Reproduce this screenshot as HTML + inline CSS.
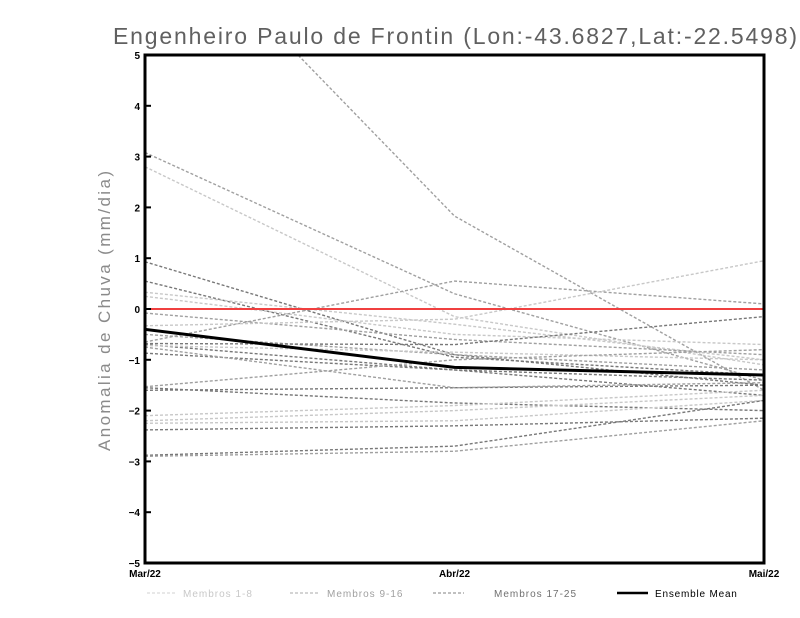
<!DOCTYPE html>
<html><head><meta charset="utf-8"><style>
body{margin:0;background:#fff;}
svg{display:block;font-family:"Liberation Sans",sans-serif;}
</style></head><body>
<svg id="chart" width="800" height="618">
<text x="113" y="44" font-size="23" fill="#606060" textLength="684" lengthAdjust="spacing">Engenheiro Paulo de Frontin (Lon:-43.6827,Lat:-22.5498)</text>
<text transform="translate(110,451) rotate(-90)" font-size="17" fill="#8a8a8a" textLength="280" lengthAdjust="spacing">Anomalia de Chuva (mm/dia)</text>
<g id="plot"></g>
<g>
<line x1="147" y1="593" x2="177" y2="593" stroke="#d0d0d0" stroke-dasharray="3,2"/>
<text x="183" y="597" font-size="10" letter-spacing="1" fill="#c8c8c8">Membros 1-8</text>
<line x1="290" y1="593" x2="320" y2="593" stroke="#a8a8a8" stroke-dasharray="3,2"/>
<text x="327" y="597" font-size="10" letter-spacing="1" fill="#a0a0a0">Membros 9-16</text>
<line x1="433" y1="593" x2="464" y2="593" stroke="#808080" stroke-dasharray="3,2"/>
<text x="494" y="597" font-size="10" letter-spacing="1" fill="#707070">Membros 17-25</text>
<line x1="617" y1="593" x2="648" y2="593" stroke="#000" stroke-width="2.5"/>
<text x="655" y="597" font-size="10" letter-spacing="0.8" fill="#000">Ensemble Mean</text>
</g>
</svg>
<script>
const categories=["Mar/22","Abr/22","Mai/22"];
const yTicks=[-5,-4,-3,-2,-1,0,1,2,3,4,5];
const mar=[8.1,3.08,2.8,0.93,0.55,0.33,0.25,-0.08,-0.65,-0.33,-0.5,-0.68,-0.7,-0.72,-0.87,-1.53,-1.55,-2.1,-2.2,-2.25,-2.38,-2.88,-2.9,-1.6,-0.75];
const abr=[1.83,0.3,-0.15,-0.9,-0.95,-0.3,-0.5,-0.6,0.55,-0.2,-0.9,-0.7,-1.2,-0.85,-1.2,-1.0,-1.85,-1.9,-2.0,-2.2,-2.3,-2.7,-2.8,-1.55,-1.55];
const mai=[-1.6,-1.4,-1.1,-1.5,-1.3,-1.0,-0.7,-0.9,0.1,0.95,-1.2,-0.15,-1.4,-1.0,-1.7,-0.8,-2.0,-1.6,-1.7,-1.8,-2.15,-1.8,-2.2,-1.5,-1.45];
const group=[2,2,1,3,3,1,1,2,2,1,2,3,3,1,3,2,3,1,1,1,3,3,2,3,2];
const meanVals=[-0.4,-1.15,-1.3];
const X0=145,X1=764,Y0=563,Y1=55;
const xs=i=>X0+(X1-X0)*i/(categories.length-1);
const ys=v=>Y0-(v+5)/10*(Y0-Y1);
const NS="http://www.w3.org/2000/svg";
const svg=document.getElementById('chart');
const plot=document.getElementById('plot');
const clip=document.createElementNS(NS,'clipPath');clip.id='cp';
const cr=document.createElementNS(NS,'rect');
cr.setAttribute('x',X0);cr.setAttribute('y',Y1);cr.setAttribute('width',X1-X0);cr.setAttribute('height',Y0-Y1);
clip.appendChild(cr);svg.appendChild(clip);
const inner=document.createElementNS(NS,'g');inner.setAttribute('clip-path','url(#cp)');plot.appendChild(inner);
const colors={1:"#c8c8c8",2:"#a0a0a0",3:"#787878"};
for(let k=0;k<mar.length;k++){
 const p=document.createElementNS(NS,'polyline');
 const vals=[mar[k],abr[k],mai[k]];
 p.setAttribute('points',vals.map((v,i)=>xs(i)+','+ys(v)).join(' '));
 p.setAttribute('fill','none');p.setAttribute('stroke',colors[group[k]]);
 p.setAttribute('stroke-dasharray','3,2');p.setAttribute('stroke-width','1.4');
 
 
 inner.appendChild(p);
}
const z=document.createElementNS(NS,'line');
z.setAttribute('x1',X0);z.setAttribute('x2',X1);z.setAttribute('y1',ys(0));z.setAttribute('y2',ys(0));
z.setAttribute('stroke','#f04040');z.setAttribute('stroke-width','2');


inner.appendChild(z);
const m=document.createElementNS(NS,'polyline');
m.setAttribute('points',meanVals.map((v,i)=>xs(i)+','+ys(v)).join(' '));
m.setAttribute('fill','none');m.setAttribute('stroke','#000');m.setAttribute('stroke-width','3');


inner.appendChild(m);
const fr=document.createElementNS(NS,'rect');
fr.setAttribute('x',X0);fr.setAttribute('y',Y1);fr.setAttribute('width',X1-X0);fr.setAttribute('height',Y0-Y1);
fr.setAttribute('fill','none');fr.setAttribute('stroke','#000');fr.setAttribute('stroke-width','3');


plot.appendChild(fr);
yTicks.forEach(v=>{
 const t=document.createElementNS(NS,'line');
 t.setAttribute('x1',X0);t.setAttribute('x2',X0+6);t.setAttribute('y1',ys(v));t.setAttribute('y2',ys(v));
 t.setAttribute('stroke','#000');t.setAttribute('stroke-width','2');
 
 
 plot.appendChild(t);
 const l=document.createElementNS(NS,'text');
 l.setAttribute('x',X0-5);l.setAttribute('y',ys(v)+4);l.setAttribute('text-anchor','end');
 l.setAttribute('font-size','10');l.setAttribute('font-weight','bold');
 l.textContent=v<0?'\u2212'+(-v):String(v);
 
 
 plot.appendChild(l);
});
categories.forEach((c,i)=>{
 const l=document.createElementNS(NS,'text');
 l.setAttribute('x',xs(i));l.setAttribute('y',577);l.setAttribute('text-anchor','middle');
 l.setAttribute('font-size','10');l.setAttribute('font-weight','bold');
 l.textContent=c;
 
 
 plot.appendChild(l);
});
</script>
</body></html>
